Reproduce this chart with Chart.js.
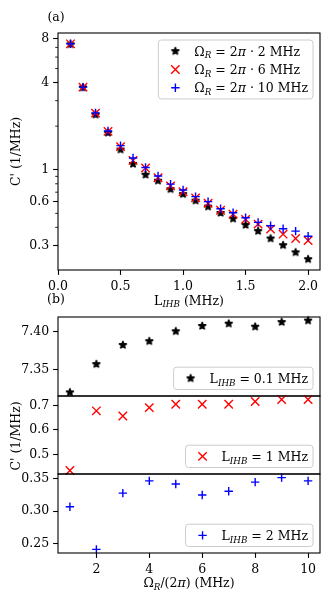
<!DOCTYPE html>
<html><head><meta charset="utf-8">
<script src="https://cdn.jsdelivr.net/npm/chart.js@4/dist/chart.umd.min.js"></script>
<style>
html,body{margin:0;padding:0;background:#fff;}
#wrap{position:relative;width:335px;height:605px;overflow:hidden;background:#fff;}
canvas{position:absolute;left:0;top:0;}
</style></head><body>
<div id="wrap">
<canvas id="ca" width="335" height="605"></canvas>
<canvas id="cb1" width="335" height="605"></canvas>
<canvas id="cb2" width="335" height="605"></canvas>
<canvas id="cb3" width="335" height="605"></canvas>
</div>
<script>
// ---------------- data ----------------
// panel (a): C' vs L_IHB for three Rabi frequencies
const lIHB = [0.1,0.2,0.3,0.4,0.5,0.6,0.7,0.8,0.9,1.0,1.1,1.2,1.3,1.4,1.5,1.6,1.7,1.8,1.9,2.0];
const cOmega2  = [7.357,3.70,2.40,1.80,1.378,1.095,0.923,0.840,0.734,0.678,0.612,0.556,0.503,0.459,0.415,0.377,0.335,0.301,0.269,0.241];
const cOmega6  = [7.407,3.72,2.46,1.84,1.445,1.160,1.027,0.880,0.774,0.705,0.639,0.587,0.525,0.494,0.454,0.421,0.389,0.359,0.335,0.325];
const cOmega10 = [7.414,3.72,2.47,1.85,1.468,1.206,1.037,0.905,0.795,0.724,0.652,0.602,0.538,0.505,0.466,0.433,0.410,0.391,0.377,0.347];
// panel (b): C' vs Omega_R/(2pi) for three L_IHB
const omegaR = [1,2,3,4,5,6,7,8,9,10];
const cL01 = [7.320,7.357,7.382,7.387,7.400,7.407,7.410,7.406,7.412,7.414];
const cL1  = [0.435,0.678,0.657,0.691,0.705,0.705,0.705,0.716,0.724,0.724];
const cL2  = [0.307,0.241,0.328,0.347,0.342,0.325,0.331,0.345,0.352,0.347];
// tick labels
const aXTicks = [0.0,0.5,1.0,1.5,2.0];
const aYTicks = [0.3,0.6,1,4,8];
const aYMinor = [0.2,0.4,0.5,0.7,0.8,0.9,2,3,5,6,7,9];
const b1YTicks = [7.35,7.40];
const b2YTicks = [0.5,0.6,0.7];
const b3YTicks = [0.25,0.30,0.35];
const bXTicks = [2,4,6,8,10];
const omegaLabels = ['2','6','10'];
const lLabels = ['0.1','1','2'];

// ---------------- styling helpers ----------------
const FAMILY = "'DejaVu Serif', serif";
const FS = 12.5;
const SUB = FS*0.7;
const SUBDY = FS*0.22;
function fontStr(size, it){ return (it?'italic ':'') + size + 'px ' + FAMILY; }
function richWidth(ctx, segs){ let w=0; for(const s of segs){ ctx.font=fontStr(s.size||FS, s.it); w+=ctx.measureText(s.t).width; } return w; }
function drawRich(ctx, segs, x, y, align){
  const w = richWidth(ctx, segs);
  let cx = align==='center' ? x-w/2 : (align==='right' ? x-w : x);
  ctx.textAlign='left'; ctx.textBaseline='alphabetic'; ctx.fillStyle='#000';
  for(const s of segs){ ctx.font=fontStr(s.size||FS, s.it); ctx.fillText(s.t, cx, y+(s.dy||0)); cx+=ctx.measureText(s.t).width; }
  return w;
}
const segL = () => [{t:'L'},{t:'IHB',size:SUB,it:true,dy:SUBDY}];
const segOmR = () => [{t:'Ω'},{t:'R',size:SUB,it:true,dy:SUBDY}];

function makeStar(color){
  const c=document.createElement('canvas'); c.width=c.height=12;
  const g=c.getContext('2d'); g.translate(6,6); g.beginPath();
  for(let i=0;i<10;i++){ const r=(i%2)?4.1*0.381966:4.1; const a=-Math.PI/2+i*Math.PI/5; g.lineTo(r*Math.cos(a), r*Math.sin(a)); }
  g.closePath(); g.fillStyle=color; g.fill(); g.lineWidth=1.3; g.lineJoin='bevel'; g.strokeStyle=color; g.stroke();
  return c;
}
const STAR = makeStar('#000000');
const BLACK='#000000', RED='#ff0000', BLUE='#0000ff';

function drawMarker(ctx, kind, color, x, y){
  ctx.save();
  if(kind==='star'){ ctx.drawImage(STAR, x-6, y-6); }
  else {
    ctx.strokeStyle=color; ctx.lineWidth=1.4; ctx.beginPath();
    const r=4.2;
    if(kind==='x'){ ctx.moveTo(x-r,y-r); ctx.lineTo(x+r,y+r); ctx.moveTo(x-r,y+r); ctx.lineTo(x+r,y-r); }
    else { ctx.moveTo(x-r,y); ctx.lineTo(x+r,y); ctx.moveTo(x,y-r); ctx.lineTo(x,y+r); }
    ctx.stroke();
  }
  ctx.restore();
}

function ds(xs, ys, kind, color, order){
  const d = {data: xs.map((x,i)=>({x:x, y:ys[i]})), showLine:false, order:order,
    pointBorderColor:color, pointBackgroundColor:color, pointBorderWidth:1.4, pointHoverRadius:0, clip:false};
  if(kind==='star'){ d.pointStyle=STAR; d.pointRadius=5; }
  else if(kind==='x'){ d.pointStyle='crossRot'; d.pointRadius=5.95; }
  else { d.pointStyle='cross'; d.pointRadius=4.2; }
  return d;
}

function padRange(vals, frac, log){
  let lo=Math.min(...vals), hi=Math.max(...vals);
  if(log){ lo=Math.log10(lo); hi=Math.log10(hi); }
  const m=(hi-lo)*frac; lo-=m; hi+=m;
  return log ? [Math.pow(10,lo), Math.pow(10,hi)] : [lo,hi];
}

function yScale(type, range, ticks, fmt){
  return {type:type, min:range[0], max:range[1], position:'left', bounds:'data',
    border:{display:false},
    grid:{drawOnChartArea:false, drawTicks:true, tickLength:4.9, tickWidth:1.1, tickColor:'#000'},
    ticks:{autoSkip:false, padding:4, color:'#000', font:{family:FAMILY, size:FS}, callback:(v)=>fmt(v)},
    afterBuildTicks:(s)=>{ s.ticks = ticks.map(v=>({value:v})); },
    afterFit:(s)=>{ s.width = 58; }
  };
}
function xScale(range, ticks, fmt, show){
  if(!show) return {type:'linear', min:range[0], max:range[1], display:false};
  return {type:'linear', min:range[0], max:range[1], position:'bottom', bounds:'data',
    border:{display:false},
    grid:{drawOnChartArea:false, drawTicks:true, tickLength:4.9, tickWidth:1.1, tickColor:'#000'},
    ticks:{autoSkip:false, maxRotation:0, padding:4, color:'#000', font:{family:FAMILY, size:FS}, callback:(v)=>fmt(v)},
    afterBuildTicks:(s)=>{ s.ticks = ticks.map(v=>({value:v})); },
    afterFit:(s)=>{ s.height = 30; }
  };
}

function decor(cfg){
  return { id:'decor', afterDraw(chart){
    const ctx=chart.ctx, ca=chart.chartArea;
    ctx.save();
    // minor ticks
    if(cfg.minorY){
      const ys=chart.scales.y; ctx.strokeStyle='#000'; ctx.lineWidth=0.85;
      for(const v of cfg.minorY){ const p=ys.getPixelForValue(v); if(p<ca.top-0.5||p>ca.bottom+0.5) continue;
        ctx.beginPath(); ctx.moveTo(ca.left-2.8,p); ctx.lineTo(ca.left,p); ctx.stroke(); }
    }
    // frame
    ctx.strokeStyle='#000'; ctx.lineWidth=1.1;
    ctx.strokeRect(ca.left, ca.top, ca.right-ca.left, ca.bottom-ca.top);
    // legend
    if(cfg.legend){
      const L=cfg.legend, rowH=18.3, n=L.items.length;
      let tw=0; for(const it of L.items) tw=Math.max(tw, richWidth(ctx,it.segs));
      const w=36+tw+5, h=n*rowH+4;
      const x0=ca.right-7-w, y0 = L.anchor==='tr' ? ca.top+7 : ca.bottom-6.5-h;
      ctx.beginPath(); ctx.roundRect(x0,y0,w,h,3);
      ctx.fillStyle='rgba(255,255,255,0.8)'; ctx.fill();
      ctx.strokeStyle='#cccccc'; ctx.lineWidth=1; ctx.stroke();
      L.items.forEach((it,i)=>{
        const cy=y0+2+rowH*(i+0.5);
        drawMarker(ctx, it.kind, it.color, x0+17, cy);
        drawRich(ctx, it.segs, x0+36, cy+FS*0.36, 'left');
      });
    }
    // texts
    if(cfg.texts){
      for(const t of cfg.texts){
        if(t.rot){ ctx.save(); ctx.translate(t.x,t.y); ctx.rotate(-Math.PI/2); drawRich(ctx,t.segs,0,0,'center'); ctx.restore(); }
        else drawRich(ctx,t.segs,t.x,t.y,t.align||'center');
      }
    }
    ctx.restore();
  }};
}

function baseOptions(pad, scales){
  return {responsive:false, animation:false, events:[], devicePixelRatio:1,
    layout:{padding:pad}, scales:scales,
    plugins:{legend:{display:false}, tooltip:{enabled:false}}};
}

// ---------------- panel (a) ----------------
const aYRange = padRange(cOmega2.concat(cOmega6, cOmega10), 0.05, true);
new Chart(document.getElementById('ca'), {
  type:'scatter',
  data:{datasets:[
    ds(lIHB, cOmega2, 'star', BLACK, 3),
    ds(lIHB, cOmega6, 'x', RED, 2),
    ds(lIHB, cOmega10, 'plus', BLUE, 1)
  ]},
  options: baseOptions({top:33,right:15,bottom:305,left:0}, {
    x: xScale([0, 2.095], aXTicks, v=>v.toFixed(1), true),
    y: yScale('logarithmic', aYRange, aYTicks, v=>String(v))
  }),
  plugins:[decor({
    minorY:aYMinor,
    legend:{anchor:'tr', items:[
      {kind:'star', color:BLACK, segs:segOmR().concat([{t:' = 2'},{t:'π',it:true},{t:' · '+omegaLabels[0]+' MHz'}])},
      {kind:'x', color:RED, segs:segOmR().concat([{t:' = 2'},{t:'π',it:true},{t:' · '+omegaLabels[1]+' MHz'}])},
      {kind:'plus', color:BLUE, segs:segOmR().concat([{t:' = 2'},{t:'π',it:true},{t:' · '+omegaLabels[2]+' MHz'}])}
    ]},
    texts:[
      {segs:[{t:'(a)'}], x:56, y:20.5},
      {segs:[{t:'(b)'}], x:56, y:302.5},
      {segs:segL().concat([{t:' (MHz)'}]), x:189, y:304.5},
      {segs:[{t:"C' (1/MHz)"}], x:20, y:151.5, rot:true}
    ]
  })]
});

// ---------------- panel (b) ----------------
const bXRange = padRange(omegaR, 0.05, false);
new Chart(document.getElementById('cb1'), {
  type:'scatter',
  data:{datasets:[ ds(omegaR, cL01, 'star', BLACK, 1) ]},
  options: baseOptions({top:317,right:15,bottom:209,left:0}, {
    x: xScale(bXRange, bXTicks, v=>String(v), false),
    y: yScale('linear', padRange(cL01,0.05,false), b1YTicks, v=>v.toFixed(2))
  }),
  plugins:[decor({legend:{anchor:'br', items:[{kind:'star', color:BLACK, segs:segL().concat([{t:' = '+lLabels[0]+' MHz'}])}]}})]
});
new Chart(document.getElementById('cb2'), {
  type:'scatter',
  data:{datasets:[ ds(omegaR, cL1, 'x', RED, 1) ]},
  options: baseOptions({top:396,right:15,bottom:131,left:0}, {
    x: xScale(bXRange, bXTicks, v=>String(v), false),
    y: yScale('linear', padRange(cL1,0.05,false), b2YTicks, v=>v.toFixed(1))
  }),
  plugins:[decor({legend:{anchor:'br', items:[{kind:'x', color:RED, segs:segL().concat([{t:' = '+lLabels[1]+' MHz'}])}]},
    texts:[{segs:[{t:"C' (1/MHz)"}], x:20, y:436, rot:true}]})]
});
new Chart(document.getElementById('cb3'), {
  type:'scatter',
  data:{datasets:[ ds(omegaR, cL2, 'plus', BLUE, 1) ]},
  options: baseOptions({top:474,right:15,bottom:22,left:0}, {
    x: xScale(bXRange, bXTicks, v=>String(v), true),
    y: yScale('linear', padRange(cL2,0.05,false), b3YTicks, v=>v.toFixed(2))
  }),
  plugins:[decor({legend:{anchor:'br', items:[{kind:'plus', color:BLUE, segs:segL().concat([{t:' = '+lLabels[2]+' MHz'}])}]},
    texts:[{segs:segOmR().concat([{t:'/(2'},{t:'π',it:true},{t:') (MHz)'}]), x:189, y:587}]})]
});
</script>
</body></html>
